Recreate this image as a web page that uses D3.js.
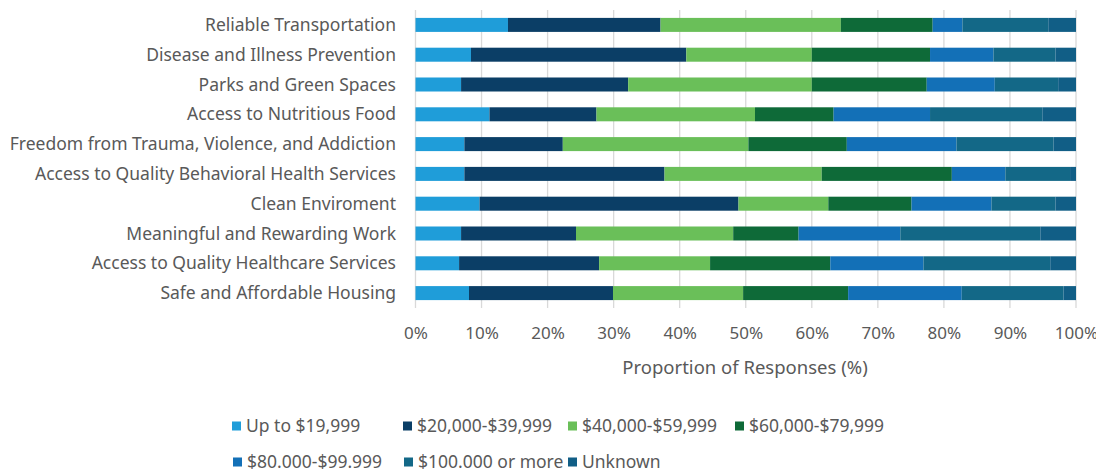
<!DOCTYPE html>
<html><head><meta charset="utf-8">
<script src="https://cdn.jsdelivr.net/npm/d3@7"></script>
<style>
body{margin:0;background:#fff;}
text{font-family:"Noto Sans", sans-serif;fill:#595959;}
</style></head>
<body><svg id="c" width="1096" height="469"></svg>
<script>
const categories = ["Reliable Transportation","Disease and Illness Prevention","Parks and Green Spaces","Access to Nutritious Food","Freedom from Trauma, Violence, and Addiction","Access to Quality Behavioral Health Services","Clean Enviroment","Meaningful and Rewarding Work","Access to Quality Healthcare Services","Safe and Affordable Housing"];
const seriesNames = ["Up to $19,999","$20,000-$39,999","$40,000-$59,999","$60,000-$79,999","$80.000-$99.999","$100.000 or more","Unknown"];
const upTo19999   = [14.0, 8.4, 6.9,11.2, 7.4, 7.4, 9.7, 6.9, 6.6, 8.1];
const s20to39     = [23.1,32.6,25.3,16.2,14.9,30.3,39.2,17.4,21.2,21.8];
const s40to59     = [27.3,19.0,27.8,24.0,28.1,23.8,13.6,23.8,16.8,19.7];
const s60to79     = [13.9,17.9,17.4,11.9,14.9,19.7,12.6, 9.9,18.2,15.9];
const s80to99     = [ 4.5, 9.6,10.3,14.6,16.6, 8.1,12.1,15.4,14.1,17.2];
const s100plus    = [13.0, 9.4, 9.6,17.0,14.7, 9.8, 9.7,21.2,19.2,15.4];
const unknown     = [ 4.2, 3.1, 2.7, 5.1, 3.4, 0.9, 3.1, 5.4, 3.9, 1.9];
const tickValues = [0,10,20,30,40,50,60,70,80,90,100];
const colors = ["#1f9dd9","#0b3e66","#6abf59","#0e6a38","#1370b7","#136887","#115e86"];

const seriesVals = [upTo19999,s20to39,s40to59,s60to79,s80to99,s100plus,unknown];
const rows = categories.map((c,i)=>{
  const o={cat:c}; seriesVals.forEach((s,k)=>o["k"+k]=s[i]); return o;
});
const keys = seriesVals.map((_,k)=>"k"+k);
const stack = d3.stack().keys(keys).offset(d3.stackOffsetExpand)(rows);

const svg = d3.select("#c");
const x = d3.scaleLinear().domain([0,100]).range([415.5,1076]);
const y = d3.scaleBand().domain(categories).range([10,308]).paddingInner(0.53).paddingOuter(0.265);

svg.append("g").selectAll("line").data(tickValues).join("line")
  .attr("x1",d=>x(d)).attr("x2",d=>x(d)).attr("y1",10).attr("y2",308)
  .attr("stroke","#d9d9d9").attr("stroke-width",1.3);

svg.append("g").selectAll("g").data(stack).join("g")
  .attr("fill",(d,i)=>colors[i])
  .selectAll("rect").data(d=>d).join("rect")
  .attr("x",d=>x(d[0]*100)).attr("width",d=>x(d[1]*100)-x(d[0]*100))
  .attr("y",d=>y(d.data.cat)).attr("height",y.bandwidth());

const yAx = d3.axisLeft(y).tickSize(0).tickPadding(0);
const gy = svg.append("g").attr("transform","translate(396,0)").call(yAx);
gy.select(".domain").remove();
gy.selectAll("text").style("font-family","'Noto Sans', sans-serif").style("font-size","17.5px").attr("fill","#595959").attr("dy","0.35em");

const xAx = d3.axisBottom(x).tickValues(tickValues).tickFormat(d=>d+"%").tickSize(0).tickPadding(0);
const gx = svg.append("g").attr("transform","translate(0,327)").call(xAx);
gx.select(".domain").remove();
gx.selectAll("text").style("font-family","'Noto Sans', sans-serif").style("font-size","17px").attr("fill","#595959").attr("dy","0.35em").attr("y",6);

svg.append("text").attr("x",745).attr("y",368).attr("dy","0.35em").attr("text-anchor","middle")
  .style("font-size","18.5px").text("Proportion of Responses (%)");

const legPos = [[232,426],[403,426],[568,426],[735,426],[233,462],[404,462],[568,462]];
const lg = svg.append("g").selectAll("g").data(seriesNames).join("g")
  .attr("transform",(d,i)=>`translate(${legPos[i][0]},${legPos[i][1]})`);
lg.append("rect").attr("x",0).attr("y",-4.5).attr("width",9).attr("height",9).attr("fill",(d,i)=>colors[i]);
lg.append("text").attr("x",14).attr("dy","0.35em").style("font-size","17.5px").text(d=>d);
</script></body></html>
